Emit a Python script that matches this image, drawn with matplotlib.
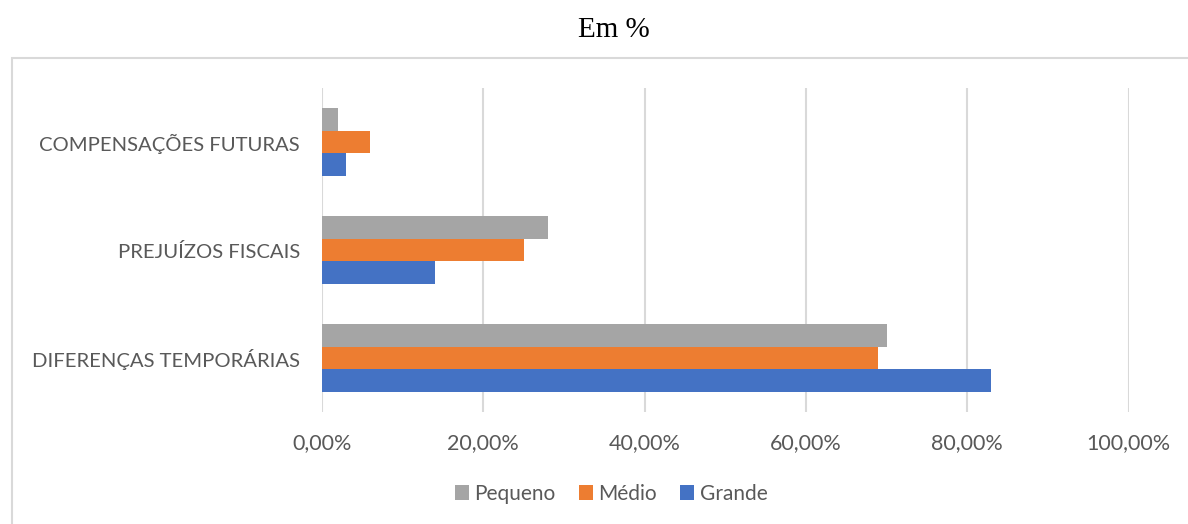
import matplotlib
matplotlib.use("Agg")
import matplotlib.pyplot as plt
from matplotlib.patches import Rectangle
import numpy as np

# dados
categorias = ["DIFERENÇAS TEMPORÁRIAS", "PREJUÍZOS FISCAIS", "COMPENSAÇÕES FUTURAS"]
grande = [83, 14, 3]
medio = [69, 25, 6]
pequeno = [70, 28, 2]
xticks = [0, 20, 40, 60, 80, 100]
xlabels = ["0,00%", "20,00%", "40,00%", "60,00%", "80,00%", "100,00%"]

plt.rcParams['font.family'] = ['Lato', 'DejaVu Sans']
txt = "#595959"

fig = plt.figure(figsize=(11.88, 5.24), dpi=100)
ax = fig.add_axes([322 / 1188, 1 - 412 / 524, (1128.5 - 322) / 1188, (412 - 88) / 524])

# moldura do grafico
fig.patches.append(Rectangle((12 / 1188, -0.1), 1.2, 1 - 58 / 524 + 0.1,
                             transform=fig.transFigure, fill=False,
                             edgecolor="#D9D9D9", linewidth=1.5))

y = np.arange(len(categorias))
h = 0.208
ax.barh(y - h, grande, height=h, color="#4472C4", label="Grande")
ax.barh(y, medio, height=h, color="#ED7D31", label="Médio")
ax.barh(y + h, pequeno, height=h, color="#A5A5A5", label="Pequeno")

ax.set_xlim(0, 100)
ax.set_ylim(-0.5, 2.5)
ax.set_xticks(xticks)
ax.set_xticklabels(xlabels)
ax.set_yticks(y)
ax.set_yticklabels(categorias)
ax.tick_params(axis="x", length=0, pad=15, labelsize=15.5, labelcolor=txt)
ax.tick_params(axis="y", length=0, pad=16, labelsize=14.6, labelcolor=txt)
ax.grid(axis="x", color="#D9D9D9", linewidth=1.5)
ax.set_axisbelow(True)
for s in ax.spines.values():
    s.set_visible(False)

fig.text(614 / 1188, 1 - 30 / 524, "Em %", ha="center", va="center",
         fontsize=21, family="Liberation Serif", color="black")

handles, labels = ax.get_legend_handles_labels()
fig.legend(handles[::-1], labels[::-1], loc="center", bbox_to_anchor=(611 / 1188, 1 - 494 / 524),
           ncol=3, frameon=False, fontsize=15, labelcolor=txt, handlelength=0.7,
           handleheight=0.7, handletextpad=0.25, columnspacing=1.1)

fig.savefig("out.png", dpi=100)
